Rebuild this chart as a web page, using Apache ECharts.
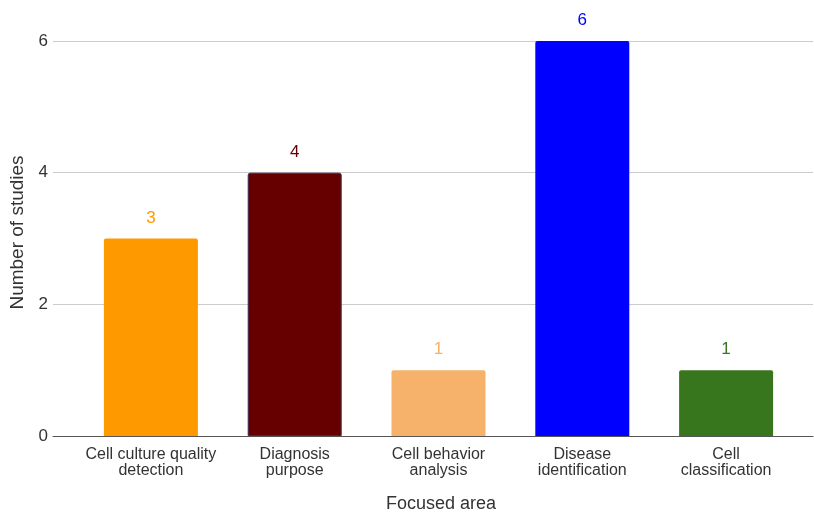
<!DOCTYPE html>
<html><head><meta charset="utf-8">
<script src="https://cdn.jsdelivr.net/npm/echarts@6/dist/echarts.min.js"></script>
<style>html,body{margin:0;padding:0;background:#fff}#c{width:814px;height:513px}</style>
</head><body><div id="c"></div>
<script>
var categories = ['Cell culture quality\ndetection', 'Diagnosis\npurpose', 'Cell behavior\nanalysis', 'Disease\nidentification', 'Cell\nclassification'];
var values = [3, 4, 1, 6, 1];
var barColors = ['#FF9900', '#660000', '#F6B26B', '#0000FF', '#38761D'];
var yTicks = [0, 2, 4, 6];

var font = 'Liberation Sans, Arial, Helvetica, sans-serif';
var chart = echarts.init(document.getElementById('c'));
chart.setOption({
  animation: false,
  grid: [
    {left: 53, right: 1, top: 41, bottom: 77, outerBoundsMode: 'none', containLabel: false},
    {left: 79, right: 16, top: 41, bottom: 77, outerBoundsMode: 'none', containLabel: false}
  ],
  xAxis: [
    {gridIndex: 0, type: 'category', data: [''], axisLine: {lineStyle: {color: '#555', width: 1}}, axisTick: {show: false}, axisLabel: {show: false},
     name: 'Focused area', nameLocation: 'middle', nameGap: 59,
     nameTextStyle: {color: '#333', fontSize: 18, fontFamily: font, padding: [0, 0, 0, 16]}},
    {gridIndex: 1, type: 'category', data: categories, axisLine: {show: false}, axisTick: {show: false},
     axisLabel: {color: '#333', fontSize: 16, fontFamily: font, lineHeight: 16, margin: 11, interval: 0}}
  ],
  yAxis: [
    {gridIndex: 0, type: 'value', min: 0, max: 6, interval: 2,
     axisLine: {show: false}, axisTick: {show: false},
     splitLine: {lineStyle: {color: '#cccccc'}},
     axisLabel: {color: '#333', fontSize: 17, fontFamily: font, margin: 5,
       formatter: function(v){ return yTicks.indexOf(v) >= 0 ? String(v) : ''; }},
     name: 'Number of studies', nameLocation: 'middle', nameGap: 23,
     nameTextStyle: {color: '#333', fontSize: 19, fontFamily: font, padding: [0, 0, 0, 12]}},
    {gridIndex: 1, type: 'value', min: 0, max: 6, interval: 2, show: false}
  ],
  series: [{
    type: 'bar', xAxisIndex: 1, yAxisIndex: 1, barWidth: 94,
    data: values.map(function(v, i){
      return {value: v, itemStyle: {color: barColors[i], borderRadius: [2,2,0,0],
        borderColor: i === 1 ? '#3b2a55' : barColors[i], borderWidth: i === 1 ? 1 : 0},
        label: {color: barColors[i]}};
    }),
    label: {show: true, position: 'top', distance: 12, fontSize: 17, fontFamily: font}
  }]
});
</script></body></html>
